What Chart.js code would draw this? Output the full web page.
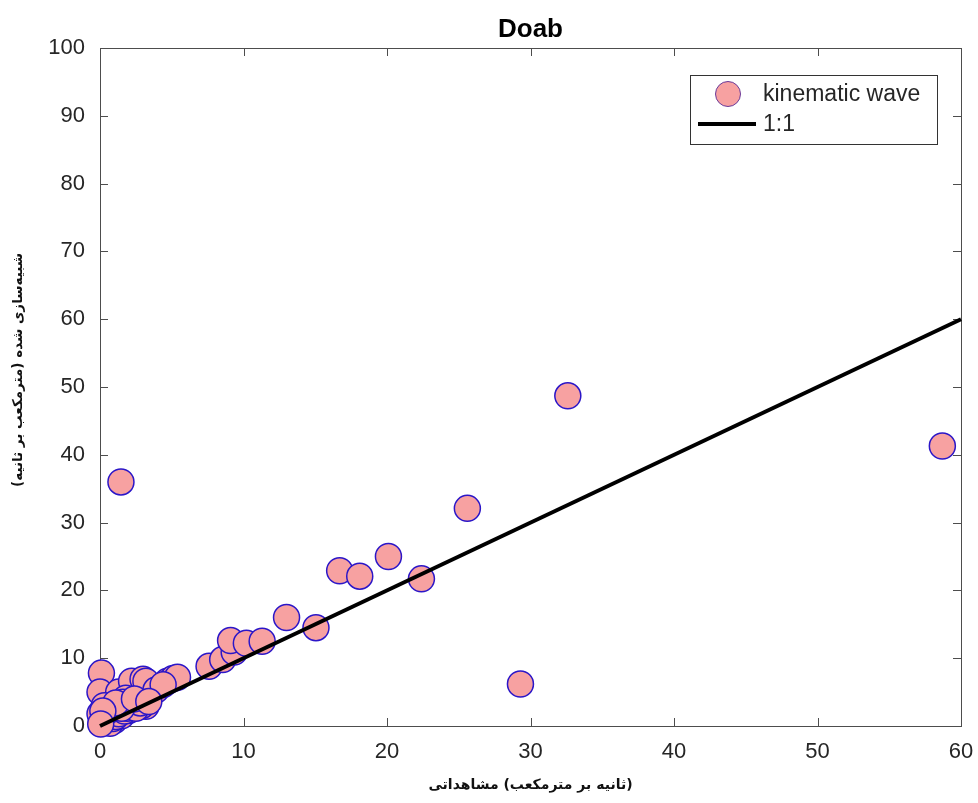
<!DOCTYPE html>
<html>
<head>
<meta charset="utf-8">
<script src="https://cdn.jsdelivr.net/npm/chart.js@4"></script>
<style>
  html, body { margin: 0; padding: 0; background: #fff; }
  #wrap { width: 978px; height: 803px; }
</style>
</head>
<body>
<div id="wrap"><canvas id="c" width="978" height="803"></canvas></div>
<script>
// ---- data ----
const chartTitle = 'Doab';
const xAxisWords = ['مشاهداتی', '(مترمکعب', 'بر', 'ثانیه)'];
const yAxisTitle = 'شبیه‌سازی شده (مترمکعب بر ثانیه)\u200F';
const seriesName = 'kinematic wave';
const lineName = '1:1';

const observed = [
  0.1, 0.0, 1.3, 2.2, 3.0, 3.2, 3.9, 4.7, 5.1, 5.4, 4.4,
  3.2, 2.9, 2.6, 2.3, 2.0, 1.8, 1.6, 1.4, 1.2, 1.0, 0.8, 0.6, 0.5, 0.4, 0.3, 0.2, 0.1, 1.0, 0.7, 1.5, 2.0, 0.3, 0.0,
  0.9, 1.1, 1.3, 1.7, 1.9, 2.2, 2.5, 2.8, 0.6, 0.9, 1.5, 1.1, 2.4, 3.4, 0.2,
  7.6, 8.55, 9.35, 9.1, 10.2, 11.3, 15.05, 13.0, 16.7, 18.1, 22.4, 20.1, 25.6, 29.3, 32.6, 58.7, 1.46,
  0.05
];
const simulated = [
  7.8, 5.0, 5.0, 6.6, 6.9, 6.6, 5.3, 6.6, 7.0, 7.2, 6.1,
  2.9, 3.0, 3.2, 3.6, 3.0, 4.1, 3.5, 2.0, 3.0, 2.2, 1.6, 1.2, 2.8, 2.0, 1.5, 1.0, 0.5, 0.8, 0.4, 1.5, 2.3, 3.0, 1.8,
  1.1, 1.4, 1.8, 2.2, 2.6, 2.8, 2.6, 3.4, 2.3, 2.6, 2.6, 3.4, 4.0, 3.6, 2.2,
  8.8, 9.8, 10.9, 12.6, 12.2, 12.5, 14.5, 16.0, 22.9, 22.1, 21.7, 25.0, 32.1, 6.2, 48.7, 41.3, 36.0,
  0.3
];
const lineX = [0, 60];
const lineY = [0, 60];
const xTicks = [0, 10, 20, 30, 40, 50, 60];
const yTicks = [0, 10, 20, 30, 40, 50, 60, 70, 80, 90, 100];

// ---- styles ----
const markerFill = '#f7a1a1';
const markerEdge = '#2b16c8';
const axisColor = '#4d4d4d';
const labelColor = '#262626';

const scatterPts = observed.map((x, i) => ({ x: x, y: simulated[i] }));
const linePts = lineX.map((x, i) => ({ x: x, y: lineY[i] }));

const framePlugin = {
  id: 'frame',
  beforeDatasetsDraw(chart) {
    const { ctx, chartArea: a, scales } = chart;
    ctx.save();
    ctx.strokeStyle = axisColor;
    ctx.lineWidth = 1;
    ctx.strokeRect(a.left + 0.5, a.top + 0.5, a.right - a.left, a.bottom - a.top);
    const tl = 8;
    ctx.beginPath();
    xTicks.forEach(v => {
      const px = Math.round(scales.x.getPixelForValue(v)) + 0.5;
      ctx.moveTo(px, a.bottom); ctx.lineTo(px, a.bottom - tl);
      ctx.moveTo(px, a.top); ctx.lineTo(px, a.top + tl);
    });
    yTicks.forEach(v => {
      const py = Math.round(scales.y.getPixelForValue(v)) + 0.5;
      ctx.moveTo(a.left, py); ctx.lineTo(a.left + tl, py);
      ctx.moveTo(a.right, py); ctx.lineTo(a.right - tl, py);
    });
    ctx.stroke();
    ctx.restore();
  },
  afterDraw(chart) {
    const { ctx, chartArea: a } = chart;
    const cx = (a.left + a.right) / 2;
    ctx.save();
    // title
    ctx.fillStyle = '#000';
    ctx.textAlign = 'center';
    ctx.textBaseline = 'middle';
    ctx.font = 'bold 26px "Liberation Sans", Arial, sans-serif';
    ctx.fillText(chartTitle, cx, 30);
    // x axis title: words laid out left to right as in the reference
    ctx.font = 'bold 14px "DejaVu Sans", sans-serif';
    ctx.direction = 'ltr';
    ctx.fillStyle = '#111';
    const sp = ctx.measureText(' ').width;
    const widths = xAxisWords.map(w => ctx.measureText(w).width);
    const total = widths.reduce((s, w) => s + w, 0) + sp * (xAxisWords.length - 1);
    let xx = cx - total / 2;
    ctx.textAlign = 'left';
    xAxisWords.forEach((w, i) => { ctx.fillText(w, xx, 785); xx += widths[i] + sp; });
    // y axis title
    ctx.save();
    ctx.translate(18, 370);
    ctx.rotate(-Math.PI / 2);
    ctx.textAlign = 'center';
    ctx.font = 'bold 13.5px "DejaVu Sans", sans-serif';
    ctx.fillText(yAxisTitle, 0, 0);
    ctx.restore();

    // legend
    const bx = 690, by = 75, bw = 247, bh = 69;
    ctx.fillStyle = '#fff';
    ctx.fillRect(bx, by, bw, bh);
    ctx.strokeStyle = '#333';
    ctx.lineWidth = 1;
    ctx.strokeRect(bx + 0.5, by + 0.5, bw, bh);
    const ds0 = chart.data.datasets[0];
    const ds1 = chart.data.datasets[1];
    ctx.beginPath();
    ctx.arc(728, 94, 12.5, 0, Math.PI * 2);
    ctx.fillStyle = ds0.backgroundColor;
    ctx.fill();
    ctx.strokeStyle = '#6a3a9a';
    ctx.lineWidth = 1;
    ctx.stroke();
    ctx.beginPath();
    ctx.moveTo(698, 124); ctx.lineTo(756, 124);
    ctx.strokeStyle = ds1.borderColor;
    ctx.lineWidth = 4;
    ctx.stroke();
    ctx.fillStyle = labelColor;
    ctx.font = '23px "Liberation Sans", Arial, sans-serif';
    ctx.textBaseline = 'middle';
    ctx.textAlign = 'left';
    ctx.fillText(ds0.label, 763, 95);
    ctx.fillText(ds1.label, 763, 125);
    ctx.restore();
  }
};

new Chart(document.getElementById('c'), {
  type: 'scatter',
  data: {
    datasets: [
      {
        label: seriesName,
        data: scatterPts,
        backgroundColor: markerFill,
        borderColor: markerEdge,
        borderWidth: 1.5,
        pointRadius: 13,
        pointHoverRadius: 13,
        clip: false,
        order: 1
      },
      {
        label: lineName,
        type: 'line',
        data: linePts,
        borderColor: '#000',
        borderWidth: 4,
        pointRadius: 0,
        fill: false,
        clip: false,
        order: 0
      }
    ]
  },
  plugins: [framePlugin],
  options: {
    responsive: false,
    animation: false,
    layout: { padding: { left: 0, right: 17, top: 48, bottom: 0 } },
    plugins: {
      legend: { display: false },
      tooltip: { enabled: false },
      title: { display: false }
    },
    scales: {
      x: {
        type: 'linear',
        min: 0, max: 60,
        afterBuildTicks(s) { s.ticks = xTicks.map(v => ({ value: v })); },
        afterFit(s) { s.height = 77; s.paddingLeft = 0; s.paddingRight = 0; },
        grid: { display: false, drawTicks: false },
        border: { display: false },
        ticks: {
          color: labelColor,
          padding: 13,
          maxRotation: 0,
          font: { size: 22, family: '"Liberation Sans", Arial, sans-serif' }
        },
        title: { display: false }
      },
      y: {
        type: 'linear',
        min: 0, max: 100,
        afterBuildTicks(s) { s.ticks = yTicks.map(v => ({ value: v })); },
        afterFit(s) { s.width = 100; s.paddingTop = 0; s.paddingBottom = 0; },
        grid: { display: false, drawTicks: false },
        border: { display: false },
        ticks: {
          color: labelColor,
          padding: 15,
          font: { size: 22, family: '"Liberation Sans", Arial, sans-serif' }
        },
        title: { display: false }
      }
    }
  }
});
</script>
</body>
</html>
